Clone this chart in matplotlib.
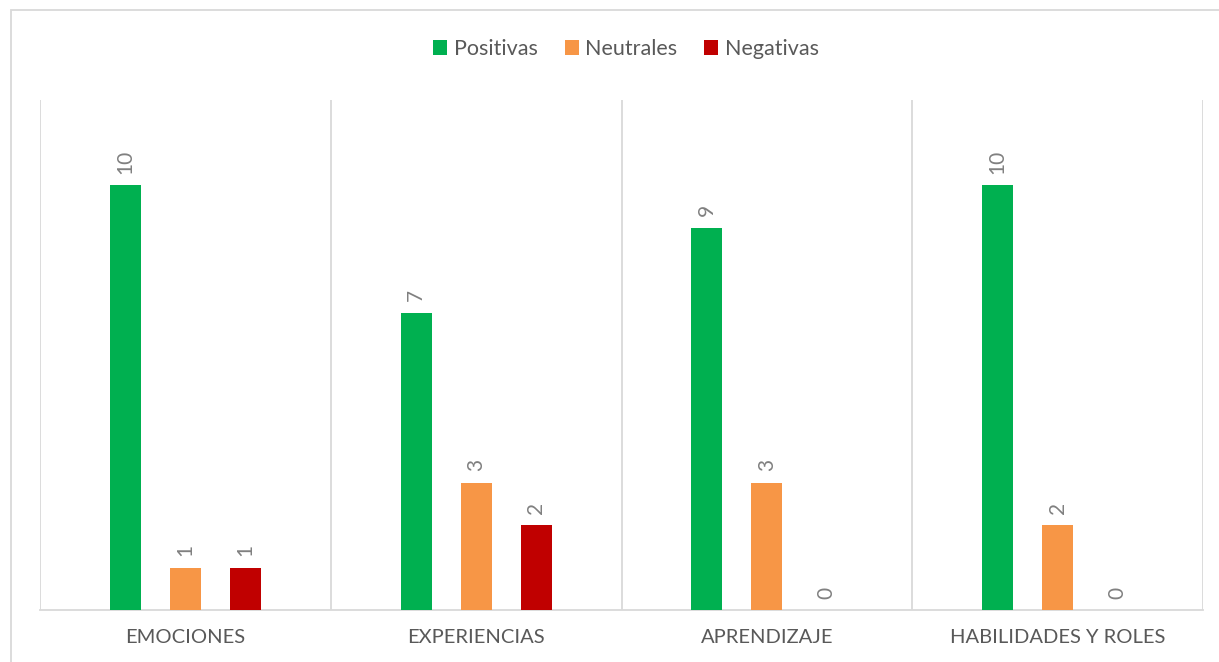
import matplotlib
matplotlib.use("Agg")
import matplotlib.pyplot as plt
from matplotlib.patches import Rectangle
import numpy as np

categories = ["EMOCIONES", "EXPERIENCIAS", "APRENDIZAJE", "HABILIDADES Y ROLES"]
series_names = ["Positivas", "Neutrales", "Negativas"]
positivas = [10, 7, 9, 10]
neutrales = [1, 3, 3, 2]
negativas = [1, 2, 0, 0]
colors = ["#00B050", "#F79646", "#C00000"]

plt.rcParams['font.family'] = ['Lato', 'DejaVu Sans']

W, H = 1219, 662
fig = plt.figure(figsize=(W / 100, H / 100), dpi=100)
ax = fig.add_axes([40 / W, (H - 610) / H, (1203 - 40) / W, (610 - 100) / H])

x = np.arange(len(categories))
offsets = [-0.206, 0.0, 0.206]
bw = 0.1065
for vals, off, col, name in zip([positivas, neutrales, negativas], offsets, colors, series_names):
    bars = ax.bar(x + off, vals, width=bw, color=col, label=name, zorder=3)
    ax.bar_label(bars, labels=[str(v) for v in vals], rotation=90, padding=8,
                 fontsize=15, color="#808080")

ax.set_xlim(-0.5, len(categories) - 0.5)
ax.set_ylim(0, 12)
ax.set_yticks([])
ax.set_xticks(x)
ax.set_xticklabels(categories, fontsize=14.5, color="#595959")
ax.tick_params(axis='x', length=0, pad=14)

for s in ["top", "right", "left"]:
    ax.spines[s].set_visible(False)
ax.spines["bottom"].set_color("#D9D9D9")
ax.spines["bottom"].set_linewidth(1.3)
for b in np.arange(-0.5, len(categories), 1.0):
    ax.axvline(b, color="#D9D9D9", lw=1.3, zorder=1)

fig.legend(loc="center", bbox_to_anchor=(626 / W, 1 - 49 / H), ncol=3, frameon=False,
           handlelength=0.65, handleheight=0.65, handletextpad=0.3, columnspacing=1.25,
           prop={'size': 15.5}, labelcolor="#595959")

fig.add_artist(Rectangle((11 / W, -0.1), 2, (H - 10) / H + 0.1, transform=fig.transFigure,
                         fill=False, edgecolor="#D9D9D9", lw=1.3))

fig.savefig("out.png", dpi=100)
